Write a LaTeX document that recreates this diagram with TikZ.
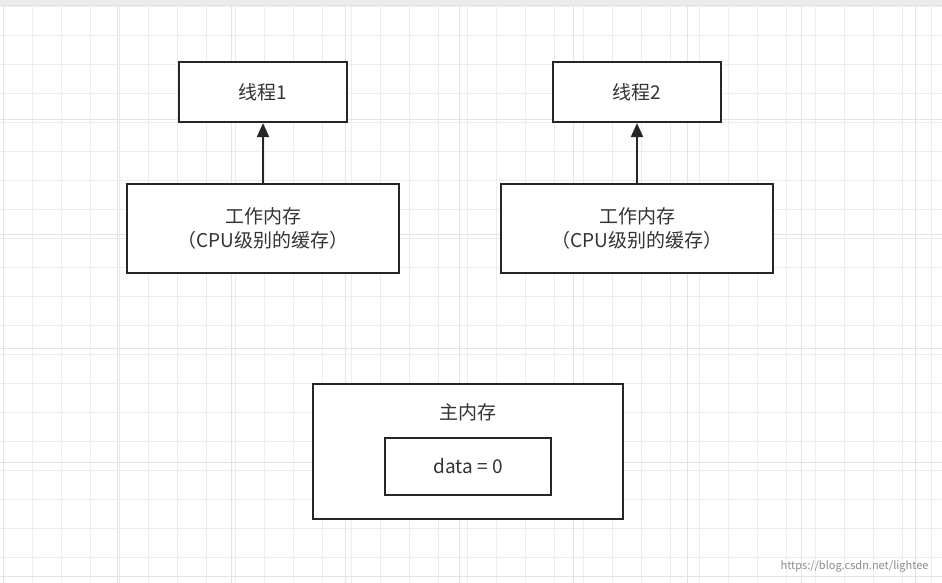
\documentclass[tikz,border=0pt]{standalone}
\usepackage{fontspec}
\setmainfont{Noto Sans CJK SC}
\usetikzlibrary{arrows.meta}
\begin{document}
\begin{tikzpicture}[x=1pt,y=-1pt,
 box/.style={draw=black!85,line width=2.2pt,fill=white,inner sep=0pt,font=\fontsize{19}{24}\selectfont,text=black!80,align=center},
 arr/.style={line width=2pt,draw=black!85,-{Triangle[length=14pt,width=12pt]}}]
\useasboundingbox (0,0) rectangle (942,583);
\fill[white] (0,0) rectangle (942,583);
\fill[black!8] (0,0) rectangle (942,6);
\foreach \x in {3,32,...,942} \draw[black!7,line width=0.8pt] (\x,6) -- (\x,583);
\foreach \y in {6,35,...,583} \draw[black!7,line width=0.8pt] (0,\y) -- (942,\y);
\foreach \x in {3,117,...,942} \draw[black!11,line width=1pt] (\x,6) -- (\x,583);
\foreach \y in {6,120,...,583} \draw[black!11,line width=1pt] (0,\y) -- (942,\y);
\node[box,minimum width=168pt,minimum height=60pt] (t1) at (263,92) {线程1};
\node[box,minimum width=168pt,minimum height=60pt] (t2) at (637,92) {线程2};
\node[box,minimum width=272pt,minimum height=89pt] (w1) at (263,228.5) {工作内存\\（CPU级别的缓存）};
\node[box,minimum width=272pt,minimum height=89pt] (w2) at (637,228.5) {工作内存\\（CPU级别的缓存）};
\node[box,minimum width=310pt,minimum height=135pt] (m) at (468,451.5) {};
\node[font=\fontsize{19}{24}\selectfont,text=black!80] (mt) at (468,412) {主内存};
\node[box,minimum width=166pt,minimum height=57pt] (d) at (468,466.5) {data = 0};
\draw[arr] (w1.north) -- (t1.south);
\draw[arr] (w2.north) -- (t2.south);
\node[font=\fontsize{11}{13}\selectfont,text=black!45,anchor=east] (wm) at (932,566) {https://blog.csdn.net/lightee};
\end{tikzpicture}
\end{document}
